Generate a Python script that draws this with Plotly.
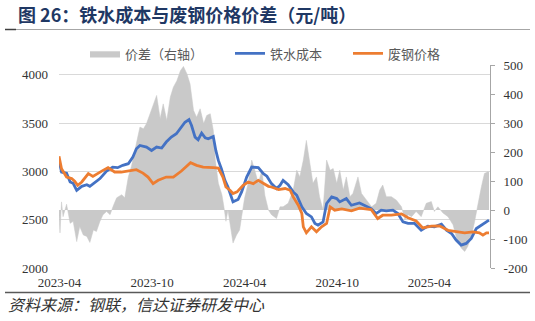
import plotly.graph_objects as go

# ---- data ----
cost_dates = ["2023-03-31","2023-04-05","2023-04-15","2023-04-22","2023-04-28","2023-05-05","2023-05-15","2023-05-25",
              "2023-05-31","2023-06-10","2023-06-20","2023-07-03","2023-07-15","2023-07-25","2023-08-04","2023-08-15",
              "2023-08-24","2023-08-31","2023-09-07","2023-09-20","2023-09-30","2023-10-10","2023-10-20","2023-10-29",
              "2023-11-08","2023-11-18","2023-11-28","2023-12-05","2023-12-13","2023-12-18","2023-12-25","2023-12-31",
              "2024-01-07","2024-01-14","2024-01-20","2024-01-30","2024-02-04","2024-02-09","2024-02-15","2024-02-22",
              "2024-02-28","2024-03-09","2024-03-19","2024-03-26","2024-04-05","2024-04-15","2024-04-28","2024-05-08",
              "2024-05-15","2024-05-24","2024-06-03","2024-06-10","2024-06-16","2024-06-26","2024-07-06","2024-07-13",
              "2024-07-23","2024-08-01","2024-08-11","2024-08-18","2024-08-24","2024-09-03","2024-09-10","2024-09-20",
              "2024-09-30","2024-10-06","2024-10-19","2024-10-29","2024-11-14","2024-11-24","2024-12-07","2024-12-17",
              "2024-12-27","2025-01-06","2025-01-19","2025-01-29","2025-02-08","2025-02-18","2025-03-03","2025-03-16",
              "2025-03-29","2025-04-11","2025-04-25","2025-05-05","2025-05-15","2025-05-24","2025-06-03","2025-06-13",
              "2025-06-23","2025-07-03","2025-07-13","2025-07-23","2025-07-28"]
cost = [3110, 2993, 2980, 2890, 2876, 2804, 2845, 2862,
        2845, 2890, 2925, 3003, 3044, 3038, 3062, 3079,
        3148, 3234, 3268, 3251, 3216, 3251, 3241, 3303,
        3354, 3389, 3457, 3508, 3536, 3474, 3354, 3327,
        3396, 3347, 3337, 3361, 3216, 3113, 3027, 2907,
        2838, 2684, 2708, 2787, 2941, 3044, 3038, 2976,
        2950, 2873, 2822, 2856, 2907, 2862, 2787, 2753,
        2632, 2564, 2529, 2461, 2443, 2477, 2667, 2735,
        2718, 2684, 2718, 2649, 2673, 2649, 2615, 2564,
        2598, 2591, 2598, 2564, 2477, 2461, 2461, 2392,
        2433, 2426, 2454, 2392, 2357, 2289, 2237, 2254,
        2306, 2409, 2443, 2477, 2495]

scrap_dates = ["2023-03-31","2023-04-05","2023-04-15","2023-04-25","2023-05-01","2023-05-07","2023-05-15","2023-05-21",
               "2023-05-28","2023-06-06","2023-06-16","2023-06-26","2023-07-06","2023-07-19","2023-08-01","2023-08-17",
               "2023-08-31","2023-09-13","2023-09-23","2023-10-03","2023-10-13","2023-10-29","2023-11-12","2023-11-28",
               "2023-12-08","2023-12-16","2023-12-28","2024-01-10","2024-01-30","2024-02-09","2024-02-18","2024-02-24",
               "2024-03-03","2024-03-09","2024-03-17","2024-03-29","2024-04-08","2024-04-18","2024-04-28","2024-05-08",
               "2024-05-18","2024-05-24","2024-06-07","2024-06-20","2024-06-30","2024-07-06","2024-07-16","2024-07-23",
               "2024-07-26","2024-08-01","2024-08-11","2024-08-21","2024-08-31","2024-09-10","2024-09-17","2024-09-26",
               "2024-10-10","2024-10-29","2024-11-14","2024-12-07","2024-12-20","2024-12-30","2025-01-16","2025-02-05",
               "2025-02-18","2025-03-06","2025-03-19","2025-04-05","2025-04-21","2025-05-08","2025-05-24","2025-06-10",
               "2025-06-26","2025-07-09","2025-07-16","2025-07-23","2025-07-28"]
scrap = [3155, 3027, 2941, 2925, 2897, 2856, 2890, 2925,
         2976, 2948, 2982, 3010, 3038, 2993, 2993, 3003,
         3017, 2982, 2941, 2873, 2907, 2941, 2941, 3003,
         3052, 3089, 3062, 3044, 3038, 3034, 2941, 2838,
         2804, 2770, 2787, 2856, 2890, 2873, 2907, 2873,
         2845, 2838, 2811, 2822, 2804, 2735, 2649, 2564,
         2426, 2364, 2426, 2374, 2426, 2461, 2632, 2598,
         2612, 2591, 2619, 2605, 2512, 2546, 2546, 2560,
         2520, 2488, 2415, 2433, 2436, 2390, 2374, 2364,
         2374, 2364, 2340, 2364, 2364]

spread_dates = ["2023-03-31","2023-04-02","2023-04-05","2023-04-08","2023-04-15","2023-04-22","2023-04-28","2023-05-05",
                "2023-05-11","2023-05-18","2023-05-25","2023-05-31","2023-06-07","2023-06-13","2023-06-20","2023-06-26",
                "2023-07-03","2023-07-10","2023-07-16","2023-07-23","2023-08-02","2023-08-08","2023-08-15","2023-08-21",
                "2023-08-28","2023-09-07","2023-09-14","2023-09-20","2023-09-27","2023-10-04","2023-10-10","2023-10-17",
                "2023-10-23","2023-10-30","2023-11-06","2023-11-12","2023-11-19","2023-11-26","2023-12-02","2023-12-09",
                "2023-12-15","2023-12-22","2023-12-28","2024-01-04","2024-01-11","2024-01-17","2024-01-24","2024-01-30",
                "2024-02-03","2024-02-09","2024-02-16","2024-02-20","2024-02-24","2024-02-28","2024-03-06","2024-03-09",
                "2024-03-16","2024-03-22","2024-03-26","2024-04-01","2024-04-08","2024-04-15","2024-04-21","2024-04-28",
                "2024-05-05","2024-05-11","2024-05-18","2024-05-24","2024-06-03","2024-06-10","2024-06-16","2024-06-26",
                "2024-07-06","2024-07-13","2024-07-19","2024-07-26","2024-08-01","2024-08-08","2024-08-14","2024-08-21",
                "2024-08-27","2024-09-03","2024-09-10","2024-09-17","2024-09-23","2024-09-30","2024-10-06","2024-10-13",
                "2024-10-19","2024-10-26","2024-11-01","2024-11-11","2024-11-18","2024-11-28","2024-12-08","2024-12-17",
                "2024-12-24","2024-12-30","2025-01-06","2025-01-16","2025-01-26","2025-02-05","2025-02-12","2025-02-18",
                "2025-02-25","2025-03-06","2025-03-16","2025-03-26","2025-04-05","2025-04-11","2025-04-18","2025-04-28",
                "2025-05-08","2025-05-18","2025-05-24","2025-06-03","2025-06-10","2025-06-16","2025-06-23","2025-06-29",
                "2025-07-06","2025-07-13","2025-07-19","2025-07-26","2025-07-28"]
spread = [-20, -79, 28, -23, 20, -46, -39, -109,
          -57, -86, -91, -112, -69, -74, -39, -16,
          -5, -16, 13, 42, 53, 42, 114, 149,
          206, 286, 280, 298, 332, 366, 395, 315,
          366, 309, 389, 423, 446, 480, 495, 469,
          435, 343, 320, 349, 298, 326, 332, 275,
          172, 92, 53, 11, -39, 0, -74, -114,
          -86, -69, -23, 42, 92, 172, 137, 92,
          137, 50, 0, -16, -29, 11, 11, 23,
          69, 137, 114, 172, 240, 160, 92, 114,
          46, 0, 172, 137, 143, 92, 137, 69,
          114, 46, 57, 114, 57, 34, 11, 23,
          69, 86, 46, 46, 34, 11, -34, -16,
          -23, -5, -23, 23, 29, -5, 11, -10,
          -23, -51, -91, -131, -143, -126, -91, -45,
          23, 80, 126, 132, 130]

left_ticks = [2000, 2500, 3000, 3500, 4000]
right_ticks = [-200, -100, 0, 100, 200, 300, 400, 500]
right_ticktext = ["-200", "-100", "0", "100", "200", "300", "400", "500"]
x_tickvals = ["2023-04-01", "2023-10-01", "2024-04-01", "2024-10-01", "2025-04-01"]
x_ticktext = ["2023-04", "2023-10", "2024-04", "2024-10", "2025-04"]

names = ["价差（右轴）", "铁水成本", "废钢价格"]
title_text = "图 26：铁水成本与废钢价格价差（元/吨）"
source_text = "资料来源：钢联，信达证券研发中心"

# ---- figure ----
W, H = 535, 321
L, R, T, B = 59, 45, 65, 53
pw, ph = W - L - R, H - T - B

def px(x):  # pixel x -> paper
    return (x - L) / pw

def py(y):  # pixel y -> paper
    return (H - B - y) / ph

serif = "Liberation Serif"
cjk = "Noto Sans CJK SC"

fig = go.Figure()
fig.add_trace(go.Scatter(x=spread_dates, y=spread, name=names[0], yaxis="y",
                         mode="lines", line=dict(width=0.5, color="#C9C9C9"),
                         fill="tozeroy", fillcolor="#C9C9C9", legend="legend",
                         showlegend=True))
fig.add_trace(go.Scatter(x=cost_dates, y=cost, name=names[1], yaxis="y2",
                         mode="lines", line=dict(width=2.8, color="#4472C4"), legend="legend2",
                         showlegend=True))
fig.add_trace(go.Scatter(x=scrap_dates, y=scrap, name=names[2], yaxis="y2",
                         mode="lines", line=dict(width=2.8, color="#ED7D31"), legend="legend3",
                         showlegend=True))

tickfont = dict(family=serif, size=13, color="#333333")
legfont = dict(family=cjk, size=13, color="#595959")

def leg(xpix):
    return dict(xref="paper", yref="paper", x=px(xpix), y=py(53.5),
                xanchor="left", yanchor="middle", orientation="h",
                font=legfont, bgcolor="rgba(0,0,0,0)", borderwidth=0,
                itemwidth=30, tracegroupgap=0, visible=True)

fig.update_layout(
    width=W, height=H,
    showlegend=True,
    margin=dict(l=L, r=R, t=T, b=B, autoexpand=False),
    paper_bgcolor="white", plot_bgcolor="white",
    xaxis=dict(type="date", range=["2023-03-31", "2025-07-30"],
               tickvals=x_tickvals, ticktext=x_ticktext, showgrid=False,
               showline=False, ticks="", tickfont=tickfont, ticklabelstandoff=5,
               zeroline=False, automargin=False),
    yaxis=dict(side="right", range=[-200, 500], tickvals=right_ticks, ticktext=right_ticktext,
               showgrid=False, zeroline=False, showline=True, linecolor="#A6A6A6", linewidth=1,
               ticks="outside", ticklen=4, tickcolor="#A6A6A6", tickfont=tickfont,
               ticklabelstandoff=6, automargin=False),
    yaxis2=dict(side="left", overlaying="y", range=[2000, 4100], tickvals=left_ticks,
                showgrid=True, gridcolor="#D9D9D9", gridwidth=1.3, zeroline=False,
                showline=False, ticks="", tickfont=tickfont, ticklabelstandoff=10,
                automargin=False),
    legend=leg(85),
    legend2=leg(230),
    legend3=leg(348),
    shapes=[
        dict(type="line", xref="paper", yref="paper", x0=px(5), x1=px(530), y0=py(29.5), y1=py(29.5),
             line=dict(color="#A6A6A6", width=1.2)),
        dict(type="line", xref="paper", yref="paper", x0=px(5), x1=px(16), y0=py(29.5), y1=py(29.5),
             line=dict(color="#404040", width=1.5)),
        dict(type="line", xref="paper", yref="paper", x0=px(5), x1=px(530), y0=py(292.5), y1=py(292.5),
             line=dict(color="#595959", width=1.3)),
    ],
    annotations=[
        dict(text="<b>" + title_text + "</b>", xref="paper", yref="paper", x=px(16), y=py(14),
             xanchor="left", yanchor="middle", showarrow=False,
             font=dict(family=cjk, size=18, color="#1F3864")),
        dict(text="<i>" + source_text + "</i>", xref="paper", yref="paper", x=px(6), y=py(304),
             xanchor="left", yanchor="middle", showarrow=False,
             font=dict(family=cjk, size=16, color="#333333")),
    ],
)

fig.write_html("out.html")
